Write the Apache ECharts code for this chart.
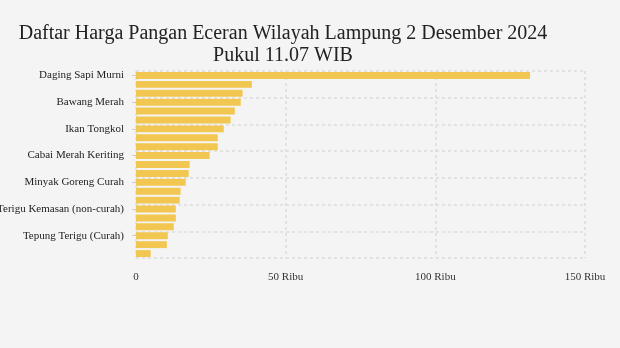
<!DOCTYPE html>
<html><head><meta charset="utf-8">
<script src="https://cdn.jsdelivr.net/npm/echarts@6/dist/echarts.min.js"></script>
<style>html,body{margin:0;padding:0;background:#f4f4f4}#c{width:620px;height:348px}</style>
</head><body><div id="c"></div>
<script>
const categories = ["Daging Sapi Murni","Daging Ayam Ras","Bawang Putih Bonggol","Bawang Merah","Ikan Kembung","Cabai Rawit Merah","Ikan Tongkol","Ikan Bandeng","Telur Ayam Ras","Cabai Merah Keriting","Gula Konsumsi","Minyak Goreng Kemasan Sederhana","Minyak Goreng Curah","Beras Premium","Beras Medium","Tepung Terigu Kemasan (non-curah)","Kedelai Biji Kering (Impor)","Garam Konsumsi","Tepung Terigu (Curah)","Cabai Rawit Hijau","Jagung Pipilan Kering"];
const values = [131650,38700,35600,35000,33000,31600,29300,27300,27300,24600,17900,17600,16600,14900,14600,13300,13300,12600,10600,10300,4900];
const xTicks = [0,50000,100000,150000];
const chart = echarts.init(document.getElementById('c'));
chart.setOption({
  backgroundColor:'#f4f4f4',
  animation:false,
  title:{text:'Daftar Harga Pangan Eceran Wilayah Lampung 2 Desember 2024\nPukul 11.07 WIB',left:278,top:18,textAlign:'center',
    textStyle:{fontFamily:'Liberation Serif',fontWeight:'normal',fontSize:20,lineHeight:22,color:'#222'}},
  grid:{left:136,right:35,top:71,bottom:90,containLabel:false,outerBoundsMode:'none'},
  xAxis:{type:'value',min:0,max:150000,interval:50000,
    axisLine:{show:false},axisTick:{show:false},
    axisLabel:{margin:14,fontFamily:'Liberation Serif',fontSize:11,color:'#333',
      formatter:v=>v===0?'0':(v/1000)+' Ribu'},
    splitLine:{show:true,lineStyle:{type:[3,3],color:'#dcdcdc',width:1.5}}},
  yAxis:{type:'category',data:categories,inverse:true,
    axisLine:{show:false},
    axisTick:{show:true,alignWithLabel:true,interval:2,length:4,lineStyle:{color:'#ccc'}},
    axisLabel:{interval:2,margin:12,fontFamily:'Liberation Serif',fontSize:11,color:'#222'},
    splitLine:{show:true,interval:2,lineStyle:{type:[3,3],color:'#dcdcdc',width:1.5}}},
  series:[{type:'bar',data:values,barCategoryGap:'22%',itemStyle:{color:'#f2c751'}}]
});
</script></body></html>
